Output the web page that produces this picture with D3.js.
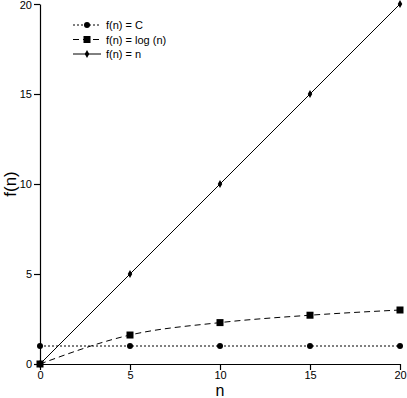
<!DOCTYPE html>
<html><head><meta charset="utf-8">
<script src="https://cdn.jsdelivr.net/npm/d3@7"></script>
<style>body{margin:0;background:#fff}svg{display:block}text{font-family:"Liberation Sans",Arial,sans-serif}</style>
</head><body>
<svg id="c" width="407" height="398"></svg>
<script>
const nValues = [0, 5, 10, 15, 20];
const constValues = [1, 1, 1, 1, 1];
const logValues = [0, 1.61, 2.30, 2.71, 3.00];
const linValues = [0, 5, 10, 15, 20];
const xTicks = [0, 5, 10, 15, 20];
const yTicks = [0, 5, 10, 15, 20];
const seriesNames = ["f(n) = C", "f(n) = log (n)", "f(n) = n"];

const svg = d3.select("#c");
const x = d3.scaleLinear().domain([0, 20]).range([40, 400]);
const y = d3.scaleLinear().domain([0, 20]).range([364, 4]);

const xAxis = svg.append("g").attr("transform", "translate(0,364)")
  .call(d3.axisBottom(x).tickValues(xTicks).tickSize(6).tickPadding(1).tickSizeOuter(0));
const yAxis = svg.append("g").attr("transform", "translate(40,0)")
  .call(d3.axisLeft(y).tickValues(yTicks).tickSize(6).tickPadding(2).tickSizeOuter(0));
[xAxis, yAxis].forEach(a => {
  a.selectAll("path,line").attr("stroke", "#000").attr("stroke-width", 1.2);
  a.selectAll("text").attr("font-size", 11).attr("fill", "#000");
});
yAxis.selectAll(".tick text").filter(d => d === 20).attr("dy", "0.45em");

svg.append("text").attr("x", 220).attr("y", 396).attr("text-anchor", "middle")
  .attr("font-size", 16).text("n");
svg.append("text").attr("transform", "translate(16,184) rotate(-90)")
  .attr("text-anchor", "middle").attr("font-size", 17).text("f(n)");

const series = [
  {vals: constValues, dash: "2,2", marker: "circle", curve: d3.curveLinear},
  {vals: logValues, dash: "6,4", marker: "square", curve: d3.curveMonotoneX},
  {vals: linValues, dash: null, marker: "diamond", curve: d3.curveLinear}
];

function drawMarker(g, type, cx, cy) {
  if (type === "circle") g.append("circle").attr("cx", cx).attr("cy", cy).attr("r", 3).attr("fill", "#000");
  else if (type === "square") g.append("rect").attr("x", cx - 3.5).attr("y", cy - 3.5).attr("width", 7).attr("height", 7).attr("fill", "#000");
  else g.append("path").attr("d", d3.symbol().type(d3.symbolDiamond).size(18)()).attr("transform", `translate(${cx},${cy})`).attr("fill", "#000");
}

series.forEach(s => {
  const line = d3.line().x((d, i) => x(nValues[i])).y(d => y(d)).curve(s.curve);
  svg.append("path").datum(s.vals).attr("d", line).attr("fill", "none")
    .attr("stroke", "#000").attr("stroke-width", 1).attr("stroke-dasharray", s.dash);
  s.vals.forEach((v, i) => drawMarker(svg, s.marker, x(nValues[i]), y(v)));
});

const legend = svg.append("g");
seriesNames.forEach((name, i) => {
  const ly = 25 + i * 14.5;
  legend.append("line").attr("x1", 73).attr("x2", 101).attr("y1", ly).attr("y2", ly)
    .attr("stroke", "#000").attr("stroke-dasharray", series[i].dash);
  drawMarker(legend, series[i].marker, 87, ly);
  legend.append("text").attr("x", 106).attr("y", ly + 4).attr("font-size", 11).text(name);
});
</script>
</body></html>
